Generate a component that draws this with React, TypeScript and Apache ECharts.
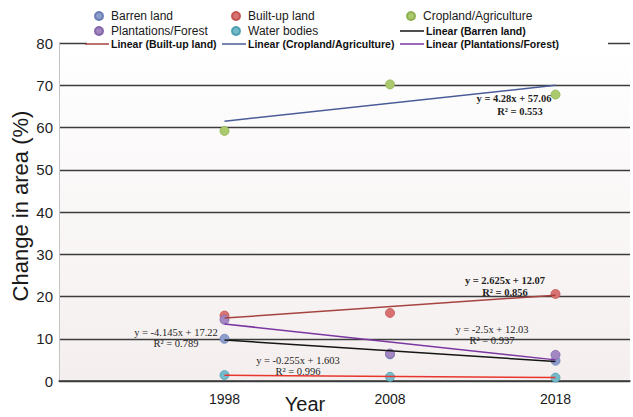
import React, { useEffect, useRef } from "react";
import * as echarts from "echarts";

// ---- data ----
const years = [1998, 2008, 2018];
const barren = [10.0, 6.3, 4.8];
const builtUp = [15.5, 16.1, 20.6];
const cropland = [59.2, 70.2, 67.8];
const plantations = [14.5, 6.5, 6.2];
const water = [1.4, 1.0, 0.8];

const trendYears = [1998, 2018];
const barrenTrend = [9.7, 4.6];
const builtUpTrend = [14.9, 20.3];
const croplandTrend = [61.5, 70.0];
const plantationsTrend = [13.5, 5.0];
const waterTrend = [1.35, 0.8];

const xTickLabels = [1998, 2008, 2018];

const equations = [
  "y = 4.28x + 57.06", "R² = 0.553",
  "y = 2.625x + 12.07", "R² = 0.856",
  "y = -4.145x + 17.22", "R² = 0.789",
  "y = -2.5x + 12.03", "R² = 0.937",
  "y = -0.255x + 1.603", "R² = 0.996",
];

const pointNames = ["Barren land", "Built-up land", "Cropland/Agriculture", "Plantations/Forest", "Water bodies"];
const trendNames = [
  "Linear (Barren land)",
  "Linear (Built-up land)",
  "Linear (Cropland/Agriculture)",
  "Linear (Plantations/Forest)",
  "Linear (Water bodies)",
];

export default function App() {
  const ref = useRef<HTMLDivElement>(null);
  useEffect(() => {
    if (!ref.current) return;
    const chart = echarts.init(ref.current, null, { renderer: "svg" });

    const pointSets = [barren, builtUp, cropland, plantations, water];
    const trendSets = [barrenTrend, builtUpTrend, croplandTrend, plantationsTrend, waterTrend];
    const pointColors = ["#8d9dcc", "#d97372", "#abc96d", "#a287c2", "#74bacb"];
    const pointBorders = ["#6b7db5", "#c25553", "#8fb150", "#8467a8", "#4f9fb3"];
    const trendColors = ["#151515", "#a6433f", "#4a5c98", "#7b36a1", "#e8352d"];

    const scatterSeries = pointSets.map((arr, i) => ({
      type: "scatter",
      name: pointNames[i],
      data: years.map((y, k) => [y, arr[k]]),
      symbol: "circle",
      symbolSize: 9,
      z: 2,
      itemStyle: { color: pointColors[i], borderColor: pointBorders[i], borderWidth: 0.8, opacity: 1 },
    }));
    const lineSeries = trendSets.map((arr, i) => ({
      type: "line",
      name: trendNames[i],
      data: trendYears.map((y, k) => [y, arr[k]]),
      symbol: "none",
      showSymbol: false,
      z: 3,
      lineStyle: { color: trendColors[i], width: 1.5 },
      itemStyle: { color: trendColors[i] },
    }));

    // legend layout: [name, left, rowCenterY, kind]
    const legendDefs: [string, number, number, string][] = [
      [pointNames[0], 94, 16, "c"],
      [pointNames[1], 231, 16, "c"],
      [pointNames[2], 406, 16, "c"],
      [pointNames[3], 94, 31, "c"],
      [pointNames[4], 231, 31, "c"],
      [trendNames[0], 400, 31, "l"],
      [trendNames[1], 85, 44, "l"],
      [trendNames[2], 222, 44, "l"],
      [trendNames[3], 400, 44, "l"],
    ];
    const legends = legendDefs.map(([name, left, cy, kind]) =>
      kind === "c"
        ? {
            data: [name],
            left,
            top: cy - 7,
            padding: 0,
            z: 60,
            icon: "circle",
            itemWidth: 8,
            itemHeight: 8,
            selectedMode: false,
            textStyle: {
              fontFamily: "Liberation Sans, Arial, sans-serif",
              fontSize: 12,
              color: "#1a1a1a",
              lineHeight: 14,
              padding: [0, 0, 0, 3],
            },
          }
        : {
            data: [name],
            left,
            top: cy - 7,
            padding: 0,
            z: 60,
            icon: "rect",
            itemWidth: 24,
            itemHeight: 1.5,
            selectedMode: false,
            textStyle: {
              fontFamily: "Liberation Sans, Arial, sans-serif",
              fontSize: 10.5,
              fontWeight: "bold",
              color: "#111",
              lineHeight: 14,
              padding: [0, 0, 0, -3],
            },
          }
    );

    const eqFont = "Liberation Serif, Times New Roman, serif";
    const eqPos: [number, number, boolean][] = [
      [514, 98, true], [520, 111, true],
      [505, 280, true], [505, 292, true],
      [176, 332, false], [176, 343, false],
      [492, 329, false], [492, 340, false],
      [298, 360, false], [298, 371, false],
    ];
    const eqGraphics = equations.map((t, i) => ({
      type: "text",
      x: eqPos[i][0],
      y: eqPos[i][1],
      z: 10,
      style: {
        text: t,
        fill: "#1e1e1e",
        font: `${eqPos[i][2] ? "bold " : ""}10.5px ${eqFont}`,
        align: "center",
        verticalAlign: "middle",
      },
    }));

    chart.setOption({
      animation: false,
      backgroundColor: "#ffffff",
      legend: legends,
      grid: {
        left: 59,
        right: 3,
        top: 43,
        bottom: 36,
        show: true,
        borderWidth: 0,
        backgroundColor: new echarts.graphic.LinearGradient(0, 0, 0, 1, [
          { offset: 0, color: "#ffffff" },
          { offset: 1, color: "#f4efee" },
        ]),
      },
      xAxis: {
        type: "value",
        min: 1988,
        max: 2022.5,
        interval: 10,
        axisLine: { show: true, lineStyle: { color: "#3a3a3a", width: 1.5 } },
        axisTick: { show: false },
        splitLine: { show: false },
        axisLabel: {
          margin: 11,
          fontFamily: "Liberation Sans, Arial, sans-serif",
          fontSize: 14,
          color: "#1a1a1a",
          showMaxLabel: false,
          formatter: (v: number) => (xTickLabels.includes(v) ? String(v) : ""),
        },
      },
      yAxis: {
        type: "value",
        min: 0,
        max: 80,
        interval: 10,
        axisLine: { show: true, lineStyle: { color: "#c4c4c4", width: 1 } },
        axisTick: { show: false },
        splitLine: { show: true, lineStyle: { color: "#3c3c3c", width: 1.3 } },
        axisLabel: {
          margin: 6,
          fontFamily: "Liberation Sans, Arial, sans-serif",
          fontSize: 15,
          color: "#1f1f1f",
        },
      },
      graphic: [
        {
          type: "rect",
          z: 50,
          shape: { x: 87, y: 4, width: 521, height: 47 },
          style: { fill: "#ffffff" },
        },
        {
          type: "text",
          x: 20,
          y: 206,
          rotation: Math.PI / 2,
          style: {
            text: "Change in area (%)",
            font: "22px Liberation Sans, Arial, sans-serif",
            fill: "#1a1a1a",
            align: "center",
            verticalAlign: "middle",
          },
        },
        {
          type: "text",
          x: 305,
          y: 404,
          style: {
            text: "Year",
            font: "20px Liberation Sans, Arial, sans-serif",
            fill: "#1a1a1a",
            align: "center",
            verticalAlign: "middle",
          },
        },
        ...eqGraphics,
      ],
      series: [...scatterSeries, ...lineSeries],
    });

    return () => chart.dispose();
  }, []);

  return <div ref={ref} style={{ width: 633, height: 417, position: "absolute", left: 0, top: 0 }} />;
}
